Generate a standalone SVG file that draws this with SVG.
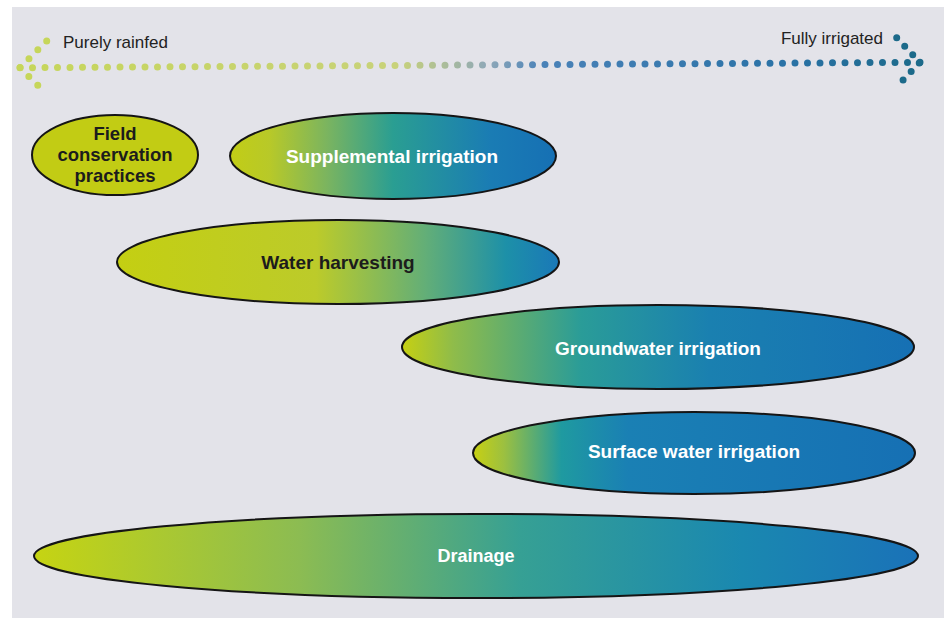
<svg xmlns="http://www.w3.org/2000/svg" width="944" height="618" viewBox="0 0 944 618">
<style>
.node ellipse{stroke:#151515;stroke-width:2}
.lbl{font-family:"Liberation Sans",Arial,sans-serif;font-weight:bold;font-size:19px;text-anchor:middle;dominant-baseline:central}
.w{fill:#ffffff}
.d{fill:#1c1c1c}
.ax{font-family:"Liberation Sans",Arial,sans-serif;font-size:17px;fill:#222}
.dots{fill:none;stroke-width:7;stroke-linecap:round;stroke-dasharray:0 1}
</style>
<defs>
<linearGradient id="gAxis" gradientUnits="userSpaceOnUse" x1="20" y1="0" x2="920" y2="0">
<stop offset="0" stop-color="#c6d65a"/>
<stop offset="0.42" stop-color="#c8d27a"/>
<stop offset="0.52" stop-color="#8fa8b8"/>
<stop offset="0.58" stop-color="#4a82b8"/>
<stop offset="0.85" stop-color="#2a72a6"/>
<stop offset="1" stop-color="#1c6a8a"/>
</linearGradient>
<linearGradient id="gSup" x1="0" y1="0" x2="1" y2="0">
<stop offset="0" stop-color="#c2cd16"/>
<stop offset="0.12" stop-color="#b8c928"/>
<stop offset="0.3" stop-color="#7ab460"/>
<stop offset="0.5" stop-color="#2a9e92"/>
<stop offset="0.8" stop-color="#1a7cb4"/>
<stop offset="1" stop-color="#1670b4"/>
</linearGradient>
<linearGradient id="gWat" x1="0" y1="0" x2="1" y2="0">
<stop offset="0" stop-color="#c4cf12"/>
<stop offset="0.45" stop-color="#bccb2a"/>
<stop offset="0.7" stop-color="#62ae78"/>
<stop offset="0.88" stop-color="#1d90a8"/>
<stop offset="1" stop-color="#1a78b8"/>
</linearGradient>
<linearGradient id="gGro" x1="0" y1="0" x2="1" y2="0">
<stop offset="0" stop-color="#c6d012"/>
<stop offset="0.1" stop-color="#8fbc4a"/>
<stop offset="0.35" stop-color="#2a9c98"/>
<stop offset="0.6" stop-color="#1a80b0"/>
<stop offset="1" stop-color="#1670b4"/>
</linearGradient>
<linearGradient id="gSur" x1="0" y1="0" x2="1" y2="0">
<stop offset="0" stop-color="#c8d012"/>
<stop offset="0.07" stop-color="#9cc040"/>
<stop offset="0.2" stop-color="#1f9aa0"/>
<stop offset="0.35" stop-color="#1a80b4"/>
<stop offset="1" stop-color="#1670b4"/>
</linearGradient>
<linearGradient id="gDra" x1="0" y1="0" x2="1" y2="0">
<stop offset="0" stop-color="#c6d412"/>
<stop offset="0.3" stop-color="#8cbc52"/>
<stop offset="0.55" stop-color="#36a094"/>
<stop offset="0.8" stop-color="#1a88b0"/>
<stop offset="1" stop-color="#1a72b8"/>
</linearGradient>
</defs>
<rect width="944" height="618" fill="#ffffff"/>
<rect x="12" y="7" width="932" height="611" fill="#e3e3e9"/>

<g id="axis">
<line class="dots" x1="20" y1="67.7" x2="920" y2="62.3" pathLength="72" stroke="url(#gAxis)"/>
<polyline class="dots" points="46.7,41 20,67.7 46.7,94" pathLength="6" stroke="#c6d65a"/>
<polyline class="dots" points="896.7,37.7 920,62.3 895,88.3" pathLength="6" stroke="#1c6a8a"/>
<text class="ax" x="63" y="48">Purely rainfed</text>
<text class="ax" x="883" y="44" text-anchor="end">Fully irrigated</text>
</g>

<g id="connectors"></g>

<g id="field" class="node">
<ellipse cx="115" cy="155" rx="83" ry="40" fill="#c2cc14"/>
<text class="lbl d" x="115" y="133" style="font-size:18.5px">Field</text>
<text class="lbl d" x="115" y="154" style="font-size:18.5px">conservation</text>
<text class="lbl d" x="115" y="175" style="font-size:18.5px">practices</text>
</g>
<g id="supplemental" class="node">
<ellipse cx="393" cy="156" rx="163" ry="43" fill="url(#gSup)"/>
<text class="lbl w" x="392" y="156">Supplemental irrigation</text>
</g>
<g id="harvesting" class="node">
<ellipse cx="338" cy="262" rx="221" ry="42" fill="url(#gWat)"/>
<text class="lbl d" x="338" y="262">Water harvesting</text>
</g>
<g id="groundwater" class="node">
<ellipse cx="658" cy="347" rx="256" ry="42" fill="url(#gGro)"/>
<text class="lbl w" x="658" y="348">Groundwater irrigation</text>
</g>
<g id="surface" class="node">
<ellipse cx="694" cy="453" rx="221" ry="41" fill="url(#gSur)"/>
<text class="lbl w" x="694" y="451">Surface water irrigation</text>
</g>
<g id="drainage" class="node">
<ellipse cx="476" cy="556" rx="442" ry="42" fill="url(#gDra)"/>
<text class="lbl w" x="476" y="556" style="font-size:18px">Drainage</text>
</g>
</svg>
